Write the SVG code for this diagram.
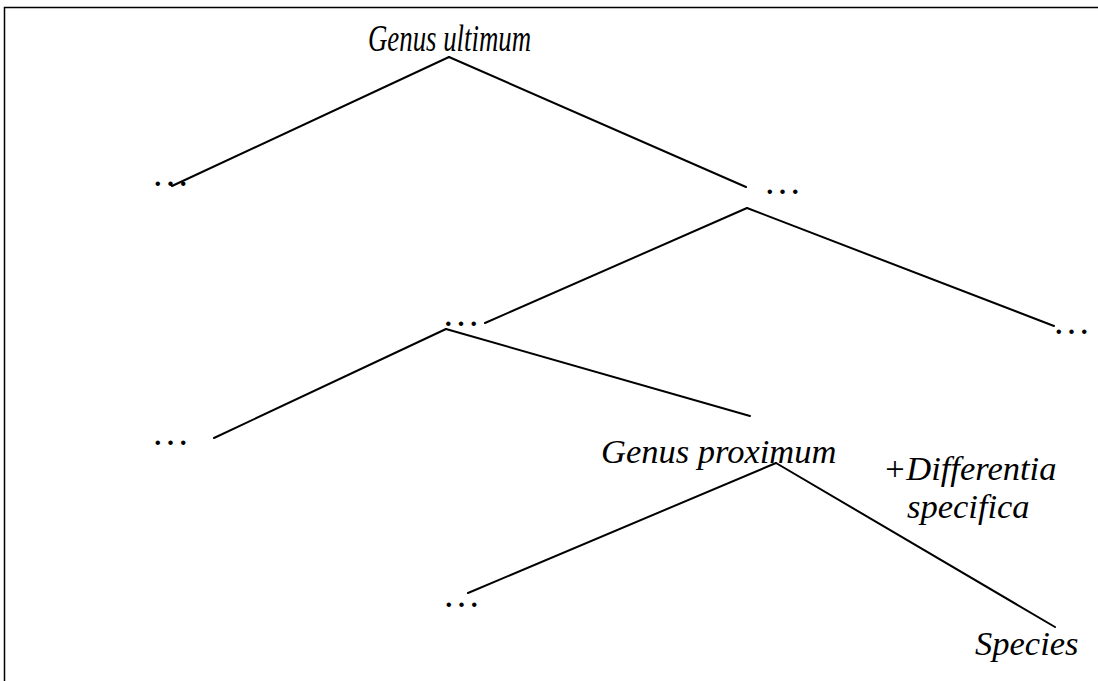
<svg xmlns="http://www.w3.org/2000/svg" width="1098" height="681" viewBox="0 0 1098 681">
<style>
.t{font-family:"Liberation Serif","Times New Roman",serif;font-style:italic;font-size:34.5px;fill:#000}
.e{font-family:"Liberation Serif","Times New Roman",serif;font-size:38px;fill:#000}
.c line{stroke:#000;stroke-width:2;stroke-linecap:round}
</style>
<rect x="0" y="0" width="1098" height="681" fill="#fff"/>
<g id="frame" fill="none" stroke="#000" stroke-width="1.5">
<path d="M4.5,681 V7.5 H1098"/>
</g>
<g class="c" id="connectors">
<line x1="449" y1="57" x2="172" y2="186"/>
<line x1="449" y1="57" x2="746" y2="187"/>
<line x1="747" y1="208" x2="485" y2="323"/>
<line x1="747" y1="208" x2="1054" y2="326"/>
<line x1="446" y1="329" x2="214" y2="438"/>
<line x1="446" y1="329" x2="750" y2="416"/>
<line x1="776" y1="463" x2="468" y2="593"/>
<line x1="776" y1="463" x2="1055" y2="627"/>
</g>
<g id="n-genus-ultimum"><text class="t" x="368" y="51" style="font-size:37px" textLength="163" lengthAdjust="spacingAndGlyphs">Genus ultimum</text></g>
<g id="n-e1"><text class="e" x="151.5" y="186">…</text></g>
<g id="n-e2"><text class="e" x="763.5" y="194">…</text></g>
<g id="n-e3"><text class="e" x="442" y="326">…</text></g>
<g id="n-e4"><text class="e" x="1052.5" y="334">…</text></g>
<g id="n-e5"><text class="e" x="151.5" y="445">…</text></g>
<g id="n-e6"><text class="e" x="442.5" y="607">…</text></g>
<g id="n-genus-proximum"><text class="t" x="601" y="463">Genus proximum</text></g>
<g id="n-differentia"><text class="t" x="883" y="480">+Differentia</text><text class="t" x="907" y="518">specifica</text></g>
<g id="n-species"><text class="t" x="975" y="655">Species</text></g>
</svg>
